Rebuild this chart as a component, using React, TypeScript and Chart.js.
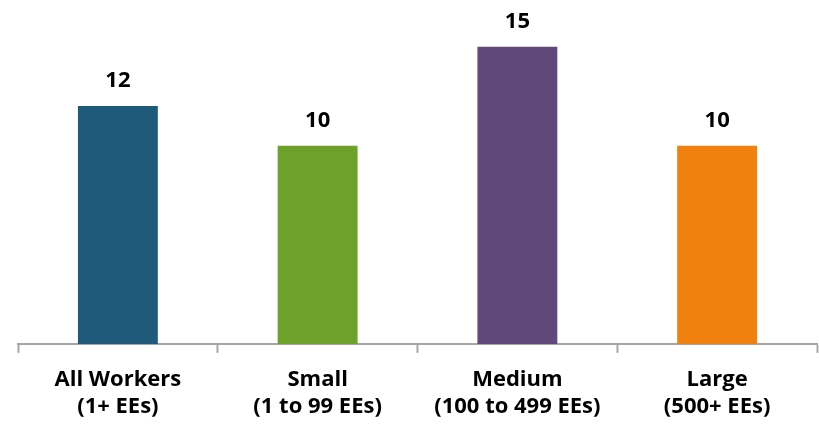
import React, { useEffect, useRef } from "react";
import { Chart, registerables } from "chart.js";

Chart.register(...registerables);

const categories: string[][] = [
  ["All Workers", "(1+ EEs)"],
  ["Small", "(1 to 99 EEs)"],
  ["Medium", "(100 to 499 EEs)"],
  ["Large", "(500+ EEs)"],
];
const values: number[] = [12, 10, 15, 10];
const barColors: string[] = ["#1F5A7B", "#6DA12A", "#60497A", "#F0810F"];

const valueLabels = {
  id: "valueLabels",
  afterDatasetsDraw(chart: any) {
    const ctx = chart.ctx;
    const meta = chart.getDatasetMeta(0);
    ctx.save();
    ctx.font = "bold 22px 'Open Sans'";
    ctx.fillStyle = "#000";
    ctx.textAlign = "center";
    ctx.textBaseline = "alphabetic";
    meta.data.forEach((bar: any, i: number) => {
      ctx.fillText(String(values[i]), bar.x, bar.y - 19);
    });
    ctx.restore();
  },
};

export default function App() {
  const ref = useRef<HTMLCanvasElement | null>(null);
  useEffect(() => {
    document.body.style.margin = "0";
    const chart = new Chart(ref.current!, {
      type: "bar",
      data: {
        labels: categories,
        datasets: [
          {
            data: values,
            backgroundColor: barColors,
            barPercentage: 0.4,
            categoryPercentage: 1,
          },
        ],
      },
      options: {
        animation: false,
        responsive: false,
        devicePixelRatio: 1,
        layout: { padding: { left: 18, right: 2, top: 7, bottom: -9 } },
        plugins: { legend: { display: false }, tooltip: { enabled: false } },
        scales: {
          x: {
            offset: true,
            grid: {
              display: true,
              drawOnChartArea: false,
              drawTicks: true,
              tickLength: 9,
              tickWidth: 2,
              color: "#A6A6A6",
              offset: true,
            },
            border: { display: true, color: "#A6A6A6", width: 2 },
            ticks: {
              color: "#000",
              font: { family: "'Open Sans'", size: 22, weight: "bold", lineHeight: 1.23 },
              padding: 13,
              maxRotation: 0,
              autoSkip: false,
            },
          },
          y: {
            display: false,
            min: 0,
            max: 17,
          },
        },
      },
      plugins: [valueLabels],
    });
    return () => chart.destroy();
  }, []);
  return (
    <div style={{ width: 819, height: 424 }}>
      <canvas ref={ref} width={819} height={424} style={{ display: "block" }} />
    </div>
  );
}
